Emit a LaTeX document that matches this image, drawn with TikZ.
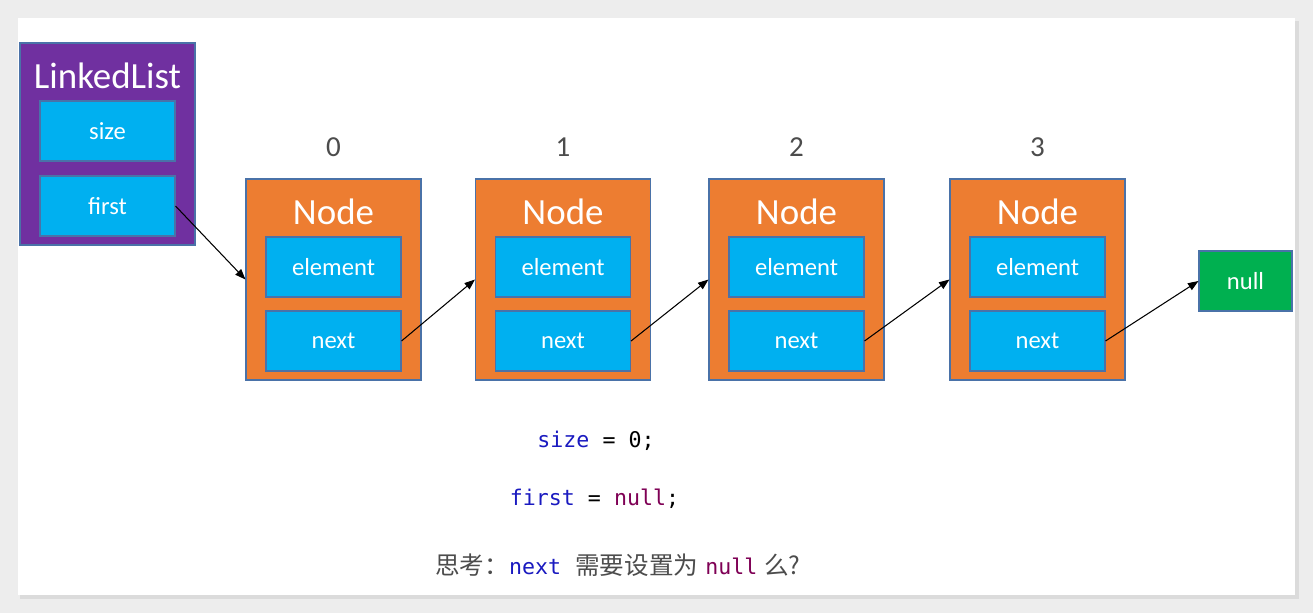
\documentclass[tikz,border=0pt]{standalone}
\usepackage{fontspec}
\setmainfont{Carlito}
\setmonofont{DejaVu Sans Mono}
\newfontfamily\cjk{Noto Sans CJK SC}
\usepackage{xcolor}
\definecolor{Deep Purple}{HTML}{7030A0}
\definecolor{Sky Blue}{HTML}{00B0F0}
\definecolor{Pumpkin}{HTML}{ED7D31}
\definecolor{Leaf Green}{HTML}{00B050}
\definecolor{Steel Edge}{HTML}{4A72A8}
\definecolor{Key Blue}{HTML}{1A1AC0}
\definecolor{Key Plum}{HTML}{7F0055}
\colorlet{cPurple}{Deep Purple}
\colorlet{cBlue}{Sky Blue}
\colorlet{cOrange}{Pumpkin}
\colorlet{cGreen}{Leaf Green}
\colorlet{cEdge}{Steel Edge}
\colorlet{cGray}{black!70}
\usetikzlibrary{arrows.meta, positioning}
\tikzset{
	box/.style={
		draw=cEdge,
		line width=.6pt,
		inner sep=0pt
	},
	list box/.style={
		box,
		fill=cPurple,
		minimum width=3.5cm,
		minimum height=4.04cm
	},
	node box/.style={
		box,
		fill=cOrange,
		minimum width=3.5cm,
		minimum height=4.02cm
	},
	field/.style={
		box,
		fill=cBlue,
		text=white,
		font=\fontsize{14}{16}\selectfont,
		minimum width=2.7cm,
		minimum height=1.2cm
	},
	title/.style={
		text=white,
		font=\fontsize{21}{24}\selectfont
	},
	index/.style={
		text=cGray,
		font=\fontsize{16.5}{18}\selectfont
	},
	link/.style={
		-{Triangle[length=6pt,width=4.5pt]},
		line width=.6pt
	},
	code/.style={
		font=\ttfamily\fontsize{12.3}{15}\selectfont
	}
}
\newcommand{\kw}[2]{{\ttfamily\fontsize{12.3}{15}\selectfont\textcolor{#1}{#2}}}

\begin{document}
\begin{tikzpicture}[x=0.02cm, y=-0.02cm]
	\useasboundingbox (0,0) rectangle (1313,613);
	\fill[black!7] (0,0) rectangle (1313,613);
	\fill[black!14] (20,21) rectangle (1299,599);
	\fill[white] (18,18) rectangle (1295,595);

	% the list object
	\node[list box] (list) at (107.5,144) {};
	\node[title] (listname) at (107.5,76) {LinkedList};
	\node[field] (size) at (107.5,131) {size};
	\node[field] (first) at (107.5,206) {first};

	% the nodes
	\foreach \i/\x in {0/333.5, 1/563, 2/796.5, 3/1037.5} {
		\node[index] (idx\i) at (\x,147) {\i};
		\node[node box] (n\i) at (\x,279.5) {};
		\node[title] (name\i) at (\x,212) {Node};
		\node[field] (e\i) at (\x,267) {element};
		\node[field] (x\i) at (\x,341) {next};
	}
	\node[box, fill=cGreen, text=white, font=\fontsize{14}{16}\selectfont,
		minimum width=1.86cm, minimum height=1.2cm] (null) at (1245.5,281) {null};

	\draw[link] (first.east) -- (n0.west);
	\foreach \i/\j in {0/1, 1/2, 2/3}
		\draw[link] (x\i.east) -- (n\j.west);
	\draw[link] (x3.east) -- (null.west);

	% code below
	\node[code] (line1) at (596,441) {\textcolor{Key Blue}{size} = 0;};
	\node[code] (line2) at (594.5,499) {\textcolor{Key Blue}{first} = \textcolor{Key Plum}{null};};
	\node[text=cGray, font=\cjk\fontsize{14}{16}\selectfont] (question) at (618,565)
		{思考：\kw{Key Blue}{next}\hspace{8pt}需要设置为\hspace{4pt}\kw{Key Plum}{null}\hspace{4pt}么?};
\end{tikzpicture}
\end{document}
